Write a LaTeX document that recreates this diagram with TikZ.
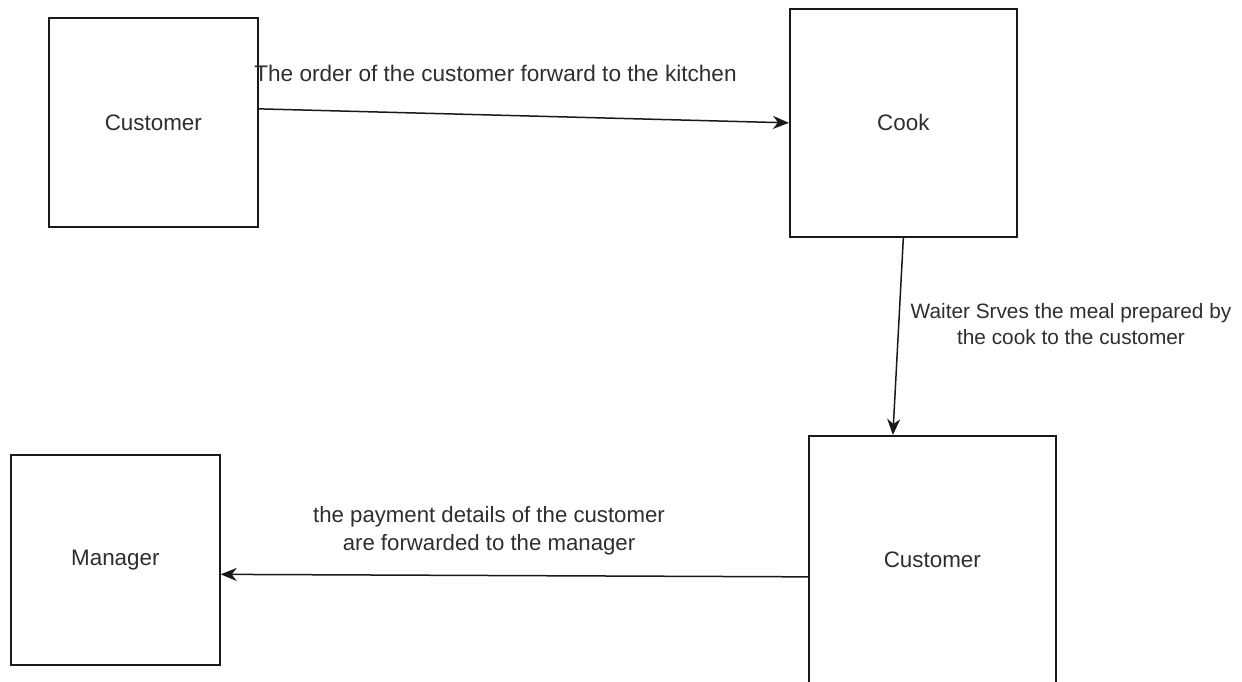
\documentclass[tikz,border=0pt]{standalone}
\usepackage{fontspec}
\setmainfont{Liberation Sans}
\usetikzlibrary{arrows.meta}
\begin{document}
\begin{tikzpicture}[x=1pt,y=-1pt,
  txt/.style={text=black!82},
  box/.style={draw=black!90, line width=1.7pt, fill=white, rectangle, anchor=north west, inner sep=0pt,
    font=\fontsize{22.4}{27}\selectfont, txt},
  lbl/.style={align=center, inner sep=0pt, txt},
  conn/.style={draw=black!90, line width=1.5pt, -{Stealth[length=16pt,width=13pt,inset=5pt]}}]
\useasboundingbox (0,0) rectangle (1242,681);
\clip (0,0) rectangle (1242,681);
\node[box, minimum width=209pt, minimum height=209pt] (cust1) at (48,17) {Customer};
\node[box, minimum width=227pt, minimum height=228pt] (cook) at (789,8) {Cook};
\node[box, minimum width=247pt, minimum height=247pt] (cust2) at (808,435) {Customer};
\node[box, minimum width=209pt, minimum height=210pt] (mgr) at (10,454) {Manager};
\draw[conn] ([yshift=13.5pt]cust1.east) -- (cook.west);
\draw[conn] (cook.south) -- ([xshift=-39.5pt]cust2.north);
\draw[conn] ([yshift=-17.5pt]cust2.west) -- ([yshift=-14.5pt]mgr.east);
\node[lbl, font=\fontsize{22.6}{27}\selectfont] (l1) at (495.5,73) {The order of the customer forward to the kitchen};
\node[lbl, font=\fontsize{20.8}{26}\selectfont] (l2) at (1071,324) {Waiter Srves the meal prepared by\\the cook to the customer};
\node[lbl, font=\fontsize{22.2}{28}\selectfont] (l3) at (489,531) {the payment details of the customer\\are forwarded to the manager};
\end{tikzpicture}
\end{document}
